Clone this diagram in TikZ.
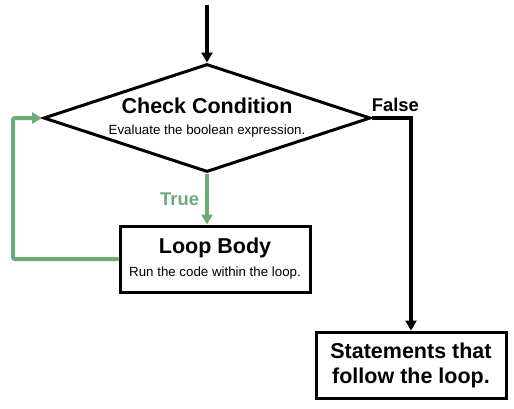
\documentclass[tikz,border=0pt]{standalone}
\usepackage{fontspec}
\setmainfont{Liberation Sans}
\usetikzlibrary{shapes.geometric,arrows.meta}

\definecolor{loopgreen}{RGB}{108,170,122}
\newcommand{\headfont}{\fontsize{21.5}{25}\selectfont\bfseries}
\newcommand{\notefont}{\fontsize{13.3}{16}\selectfont\mdseries}

\tikzset{
  decision/.style={diamond, draw=black, line width=3pt, aspect=3, inner sep=0pt,
    minimum width=327pt, minimum height=108pt, align=center, font=\headfont},
  block/.style={rectangle, draw=black, line width=3pt, inner sep=0pt,
    minimum width=190pt, minimum height=66pt, align=center, font=\headfont},
  flow/.style={line width=4pt, -{Triangle[length=10pt,width=11pt]}},
  loopflow/.style={flow, draw=loopgreen, fill=none, rounded corners=2pt},
  branch/.style={font=\fontsize{18.4}{20}\selectfont\bfseries}
}

\begin{document}
\begin{tikzpicture}[x=1pt,y=-1pt]
    \useasboundingbox (0,0) rectangle (514,408);
    \coordinate (start) at (207,5);
    \node[decision] (check) at (207,118) {Check Condition\\[-4pt]{\notefont Evaluate the boolean expression.}};
    \node[block] (body) at (215,259) {Loop Body\\[-2pt]{\notefont Run the code within the loop.}};
    \node[block] (after) at (411,365) {Statements that\\follow the loop.};
    \coordinate (back) at (13,259);
    % entry and exit
    \draw[flow] (start) -- (check.north);
    \draw[flow] (check.east) -| node[branch, pos=0.3, above, yshift=3pt, inner sep=1pt] (no) {False} (after.north);
    % the loop
    \draw[loopflow] (check.south) -- node[branch, left, text=loopgreen, inner sep=6pt] (yes) {True} (check.south |- body.north);
    \draw[loopflow] (body.west) -- (back) |- (check.west);
\end{tikzpicture}
\end{document}
